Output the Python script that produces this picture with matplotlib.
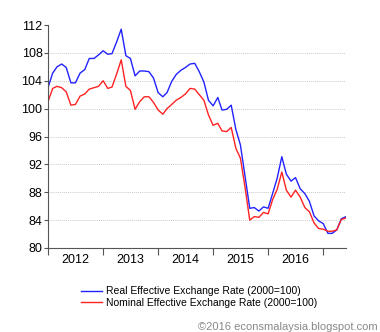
import numpy as np
import pandas as pd
import matplotlib
matplotlib.use("Agg")
import matplotlib.pyplot as plt

plt.rcParams['font.family'] = ['Liberation Sans', 'DejaVu Sans']
plt.rcParams['font.size'] = 7.5

# monthly, Jan 2012 - Jun 2017
months = pd.date_range("2012-01-01", periods=66, freq="MS")

reer = [103.0, 105.1, 106.0, 106.4, 105.9, 103.7, 103.7, 105.1, 105.6, 107.2, 107.2, 107.7,
        108.3, 107.8, 107.9, 109.6, 111.4, 107.6, 107.2, 104.7, 105.4, 105.4, 105.3, 104.4,
        102.3, 101.7, 102.3, 103.9, 104.9, 105.5, 105.9, 106.4, 106.5, 105.3, 103.8, 101.2,
        100.4, 101.6, 99.8, 99.9, 100.5, 97.0, 94.8, 90.3, 85.7, 85.8, 85.3, 85.9,
        85.7, 87.9, 90.0, 93.1, 90.6, 89.6, 90.1, 88.5, 87.8, 86.7, 84.6, 83.9,
        83.5, 82.1, 82.1, 82.6, 84.2, 84.5]

neer = [101.0, 102.9, 103.2, 103.0, 102.4, 100.5, 100.6, 101.8, 102.1, 102.8, 103.0, 103.2,
        104.0, 102.9, 103.1, 105.0, 107.0, 103.2, 102.6, 99.9, 101.0, 101.7, 101.7, 100.9,
        99.8, 99.2, 100.0, 100.6, 101.2, 101.6, 102.1, 102.9, 102.8, 102.0, 101.2, 99.1,
        97.6, 97.9, 96.8, 96.7, 97.3, 94.3, 92.9, 88.7, 84.0, 84.5, 84.4, 85.1,
        84.9, 87.0, 88.4, 90.9, 88.3, 87.3, 88.3, 87.3, 85.8, 85.2, 83.6, 82.8,
        82.7, 82.4, 82.4, 82.6, 84.1, 84.3]

years = ["2012", "2013", "2014", "2015", "2016"]

fig = plt.figure(figsize=(3.8, 3.32), dpi=100)
ax = fig.add_axes([48/380, 1 - 248/332, 298/380, 223/332])

l1, = ax.plot(months, reer, color="#2222ff", lw=1.0)
l2, = ax.plot(months, neer, color="#ff2222", lw=1.0)

ax.set_ylim(80, 112)
ax.set_yticks(np.arange(80, 113, 4))
ax.set_xlim(months[0], months[-1])

# year boundaries as ticks, year names centred in between
bounds = pd.to_datetime([f"{y}-01-01" for y in range(2012, 2018)])
mids = pd.to_datetime([f"{y}-07-01" for y in years])
ax.set_xticks(bounds)
ax.set_xticklabels([""] * len(bounds))
ax.set_xticks(mids, minor=True)
ax.set_xticklabels(years, minor=True)
ax.tick_params(axis="x", which="major", length=5, direction="out", color="#555555")
ax.tick_params(axis="x", which="minor", length=0, pad=4, labelsize=9)
ax.tick_params(axis="y", length=3, direction="out", color="#555555", labelsize=9, pad=1)

for y in range(84, 112, 4):
    ax.axhline(y, color="#cccccc", lw=0.7, ls=(0, (1, 1)), zorder=0)

ax.spines["top"].set_visible(False)
ax.spines["right"].set_visible(False)
ax.spines["left"].set_color("#555555")
ax.spines["bottom"].set_color("#555555")

fig.legend([l1, l2],
           ["Real Effective Exchange Rate (2000=100)",
            "Nominal Effective Exchange Rate (2000=100)"],
           loc="upper left", bbox_to_anchor=(76/380, 1 - 281/332),
           frameon=False, handlelength=2.0, handletextpad=0.4,
           labelspacing=0.15, borderpad=0, fontsize=7.5)

fig.text(378/380, 1 - 327/332, "\u00a92016 econsmalaysia.blogspot.com",
         ha="right", va="center", color="#888888", fontsize=8)

fig.savefig("out.png", dpi=100)
